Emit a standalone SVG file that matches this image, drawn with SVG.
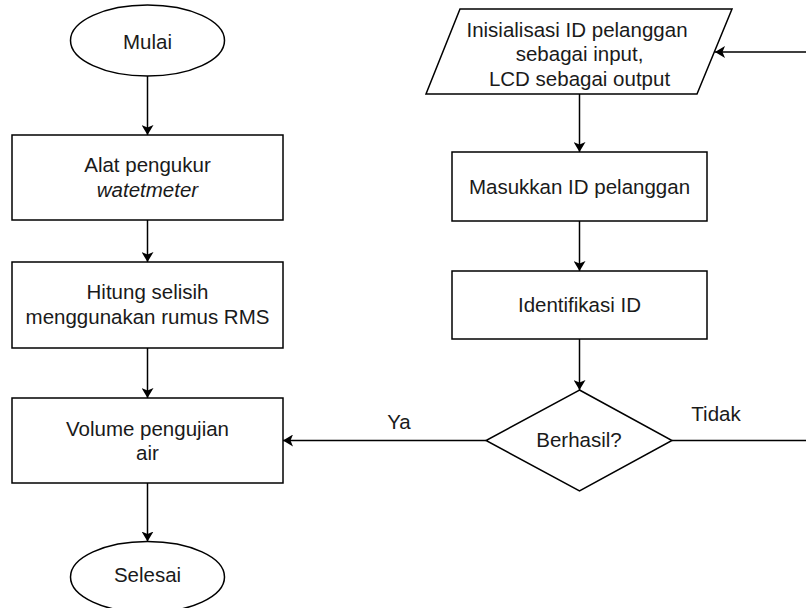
<svg xmlns="http://www.w3.org/2000/svg" width="806" height="608" viewBox="0 0 806 608">
  <defs>
    <style>
      .shape { fill: #ffffff; stroke: #000000; stroke-width: 1.5; }
      .edge { fill: none; stroke: #000000; stroke-width: 1.5; }
      .label { font-family: "Liberation Sans", Arial, sans-serif; font-size: 20.5px; fill: #1a1a1a; text-anchor: middle; }
      .it { font-style: italic; }
    </style>
    <marker id="arrow" viewBox="0 0 10 12" refX="10" refY="6" markerWidth="10" markerHeight="12" markerUnits="userSpaceOnUse" orient="auto">
      <path d="M0,0 L10,6 L0,12 L2.5,6 z" fill="#000000"/>
    </marker>
  </defs>
  <rect width="806" height="608" fill="#ffffff"/>

  <g id="connectors">
    <line class="edge" x1="147.5" y1="76" x2="147.5" y2="135" marker-end="url(#arrow)"/>
    <line class="edge" x1="147.5" y1="220" x2="147.5" y2="262" marker-end="url(#arrow)"/>
    <line class="edge" x1="147.5" y1="348" x2="147.5" y2="398" marker-end="url(#arrow)"/>
    <line class="edge" x1="147.5" y1="483" x2="147.5" y2="541.5" marker-end="url(#arrow)"/>
    <line class="edge" x1="579.5" y1="94" x2="579.5" y2="152" marker-end="url(#arrow)"/>
    <line class="edge" x1="579.5" y1="221" x2="579.5" y2="271" marker-end="url(#arrow)"/>
    <line class="edge" x1="579.5" y1="339" x2="579.5" y2="390" marker-end="url(#arrow)"/>
    <line class="edge" x1="486" y1="440.5" x2="283" y2="440.5" marker-end="url(#arrow)"/>
    <path class="edge" d="M672,440.5 L830,440.5 L830,52 L715,52" marker-end="url(#arrow)"/>
    <text class="label" x="399" y="429">Ya</text>
    <text class="label" x="716" y="421">Tidak</text>
  </g>

  <g id="mulai">
    <ellipse class="shape" cx="147.5" cy="40.5" rx="77" ry="35.5"/>
    <text class="label" x="147.5" y="48.5">Mulai</text>
  </g>

  <g id="alat-pengukur">
    <rect class="shape" x="12" y="135" width="271" height="85"/>
    <text class="label" x="147.5" y="172">Alat pengukur</text>
    <text class="label it" x="147.5" y="196.5">watetmeter</text>
  </g>

  <g id="hitung-selisih">
    <rect class="shape" x="12" y="262" width="271" height="86"/>
    <text class="label" x="147.5" y="299">Hitung selisih</text>
    <text class="label" x="147.5" y="324">menggunakan rumus RMS</text>
  </g>

  <g id="volume-pengujian">
    <rect class="shape" x="12" y="398" width="271" height="85"/>
    <text class="label" x="147.5" y="435.5">Volume pengujian</text>
    <text class="label" x="147.5" y="460">air</text>
  </g>

  <g id="selesai">
    <ellipse class="shape" cx="147.5" cy="577" rx="77" ry="35.5"/>
    <text class="label" x="147.5" y="582">Selesai</text>
  </g>

  <g id="inisialisasi">
    <polygon class="shape" points="460,9 732,9 697,94 426,94"/>
    <text class="label" x="577" y="36.5">Inisialisasi ID pelanggan</text>
    <text class="label" x="579.5" y="61">sebagai input,</text>
    <text class="label" x="579.5" y="85.5">LCD sebagai output</text>
  </g>

  <g id="masukkan-id">
    <rect class="shape" x="452" y="152" width="255" height="69"/>
    <text class="label" x="579.5" y="194">Masukkan ID pelanggan</text>
  </g>

  <g id="identifikasi-id">
    <rect class="shape" x="452" y="271" width="255" height="68"/>
    <text class="label" x="579.5" y="311.5">Identifikasi ID</text>
  </g>

  <g id="berhasil">
    <polygon class="shape" points="579.5,390 672,440.5 579.5,491 486,440.5"/>
    <text class="label" x="579" y="447">Berhasil?</text>
  </g>
</svg>
